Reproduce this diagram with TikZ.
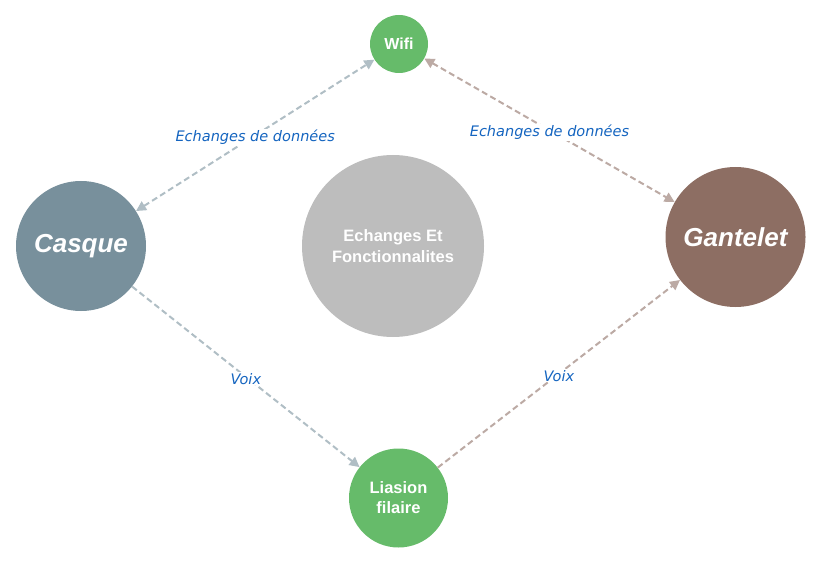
\documentclass[tikz,border=0pt]{standalone}
\usepackage{fontspec}
\setmainfont{Liberation Sans}
\newfontfamily\labelfont{DejaVu Sans}
\usetikzlibrary{arrows.meta}
\definecolor{casquecol}{HTML}{78909C}
\definecolor{gantcol}{HTML}{8D6E63}
\definecolor{greencol}{HTML}{66BB6A}
\definecolor{centercol}{HTML}{BDBDBD}
\definecolor{greyedge}{HTML}{B0BEC5}
\definecolor{brownedge}{HTML}{BCAAA4}
\definecolor{labelcol}{HTML}{1565C0}
\tikzset{
  bubble/.style={circle, inner sep=0pt, text=white, align=center, font=\bfseries},
  link/.style={line width=2pt, dash pattern=on 6pt off 3.5pt,
    arrows={-Triangle[length=10pt,width=10pt]}},
  twoway/.style={arrows={Triangle[length=10pt,width=10pt]-Triangle[length=10pt,width=10pt]}},
  lbl/.style={font=\labelfont\itshape\fontsize{14.5}{17}\selectfont, text=labelcol,
    fill=white, inner sep=1pt, yshift=-2pt}
}
\begin{document}
\begin{tikzpicture}[x=1pt,y=-1pt]
  \useasboundingbox (0,0) rectangle (821,564);
  % circles
  \node[bubble, fill=centercol, minimum size=182pt,
        font=\bfseries\fontsize{16.5}{21}\selectfont] (centre) at (393,246)
        {Echanges Et\\Fonctionnalites};
  \node[bubble, fill=casquecol, minimum size=130pt,
        font=\bfseries\itshape\fontsize{26}{30}\selectfont] (casque) at (81,246) {\raisebox{-2pt}{Casque}};
  \node[bubble, fill=gantcol, minimum size=140pt,
        font=\bfseries\itshape\fontsize{26}{30}\selectfont] (gantelet) at (735.5,237) {Gantelet};
  \node[bubble, fill=greencol, minimum size=58pt,
        font=\bfseries\fontsize{16}{19}\selectfont] (wifi) at (399,44) {Wifi};
  \node[bubble, fill=greencol, minimum size=99pt,
        font=\bfseries\fontsize{16.5}{20}\selectfont] (filaire) at (398.5,498) {Liasion\\filaire};
  % connectors
  \draw[link, twoway, greyedge] (casque) -- node[lbl] {Echanges de données} (wifi);
  \draw[link, twoway, brownedge] (wifi) -- node[lbl] {Echanges de données} (gantelet);
  \draw[link, greyedge] (casque) -- node[lbl] {Voix} (filaire);
  \draw[link, brownedge] (filaire) -- node[lbl] {Voix} (gantelet);
\end{tikzpicture}
\end{document}
